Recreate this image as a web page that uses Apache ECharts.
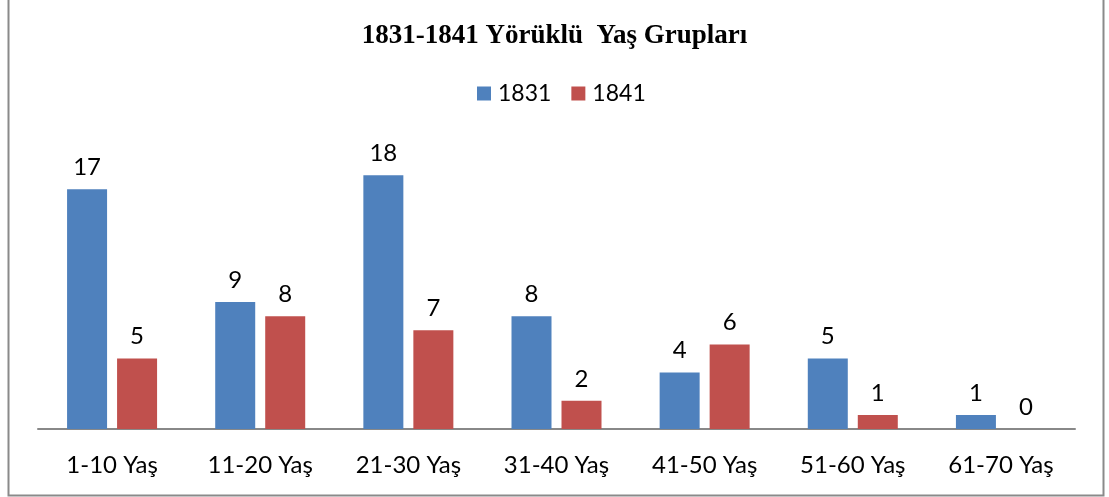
<!DOCTYPE html>
<html>
<head>
<meta charset="utf-8">
<script src="https://cdn.jsdelivr.net/npm/echarts@6/dist/echarts.min.js"></script>
<style>
  html, body { margin: 0; padding: 0; background: #fff; }
  #chart { width: 1109px; height: 497px; }
</style>
</head>
<body>
<div id="chart"></div>
<script>
const categories = ['1-10 Yaş', '11-20 Yaş', '21-30 Yaş', '31-40 Yaş', '41-50 Yaş', '51-60 Yaş', '61-70 Yaş']
const values1831 = [17, 9, 18, 8, 4, 5, 1]
const values1841 = [5, 8, 7, 2, 6, 1, 0]

const chart = echarts.init(document.getElementById('chart'))
const sansFont = 'Lato, "Open Sans", sans-serif'
const labelStyle = {
  show: true,
  position: 'top',
  distance: 10,
  color: '#000',
  fontFamily: sansFont,
  fontSize: 24
}
const option = {
  animation: false,
  backgroundColor: '#fff',
  title: {
    text: '1831-1841 Yörüklü  Yaş Grupları',
    left: 'center',
    top: 18,
    textStyle: {
      fontFamily: '"Liberation Serif", serif',
      fontWeight: 'bold',
      fontSize: 27,
      color: '#000'
    }
  },
  legend: {
    top: 77,
    left: 472,
    itemWidth: 14,
    itemHeight: 14,
    itemGap: 20,
    icon: 'rect',
    textStyle: {
      fontFamily: sansFont,
      fontSize: 23,
      color: '#000',
      padding: [0, 0, 0, 2]
    },
    data: ['1831', '1841']
  },
  grid: {
    left: 38,
    right: 34,
    top: 147,
    bottom: 68
  },
  xAxis: {
    type: 'category',
    data: categories,
    axisLine: { lineStyle: { color: '#888', width: 2 } },
    axisTick: { show: false },
    axisLabel: {
      color: '#000',
      fontFamily: sansFont,
      fontSize: 24,
      margin: 24
    }
  },
  yAxis: {
    type: 'value',
    min: 0,
    max: 20,
    interval: 5,
    show: false,
    splitLine: { show: false }
  },
  series: [
    {
      name: '1831',
      type: 'bar',
      data: values1831,
      barWidth: 40,
      barGap: '25%',
      itemStyle: { color: '#4F81BD' },
      label: labelStyle
    },
    {
      name: '1841',
      type: 'bar',
      data: values1841,
      barWidth: 40,
      itemStyle: { color: '#C0504D' },
      label: labelStyle
    }
  ],
  graphic: [
    {
      type: 'rect',
      shape: { x: 8.5, y: -2, width: 1095, height: 497.5 },
      style: { fill: 'none', stroke: '#8a8a8a', lineWidth: 2 }
    }
  ]
}
chart.setOption(option)
</script>
</body>
</html>
